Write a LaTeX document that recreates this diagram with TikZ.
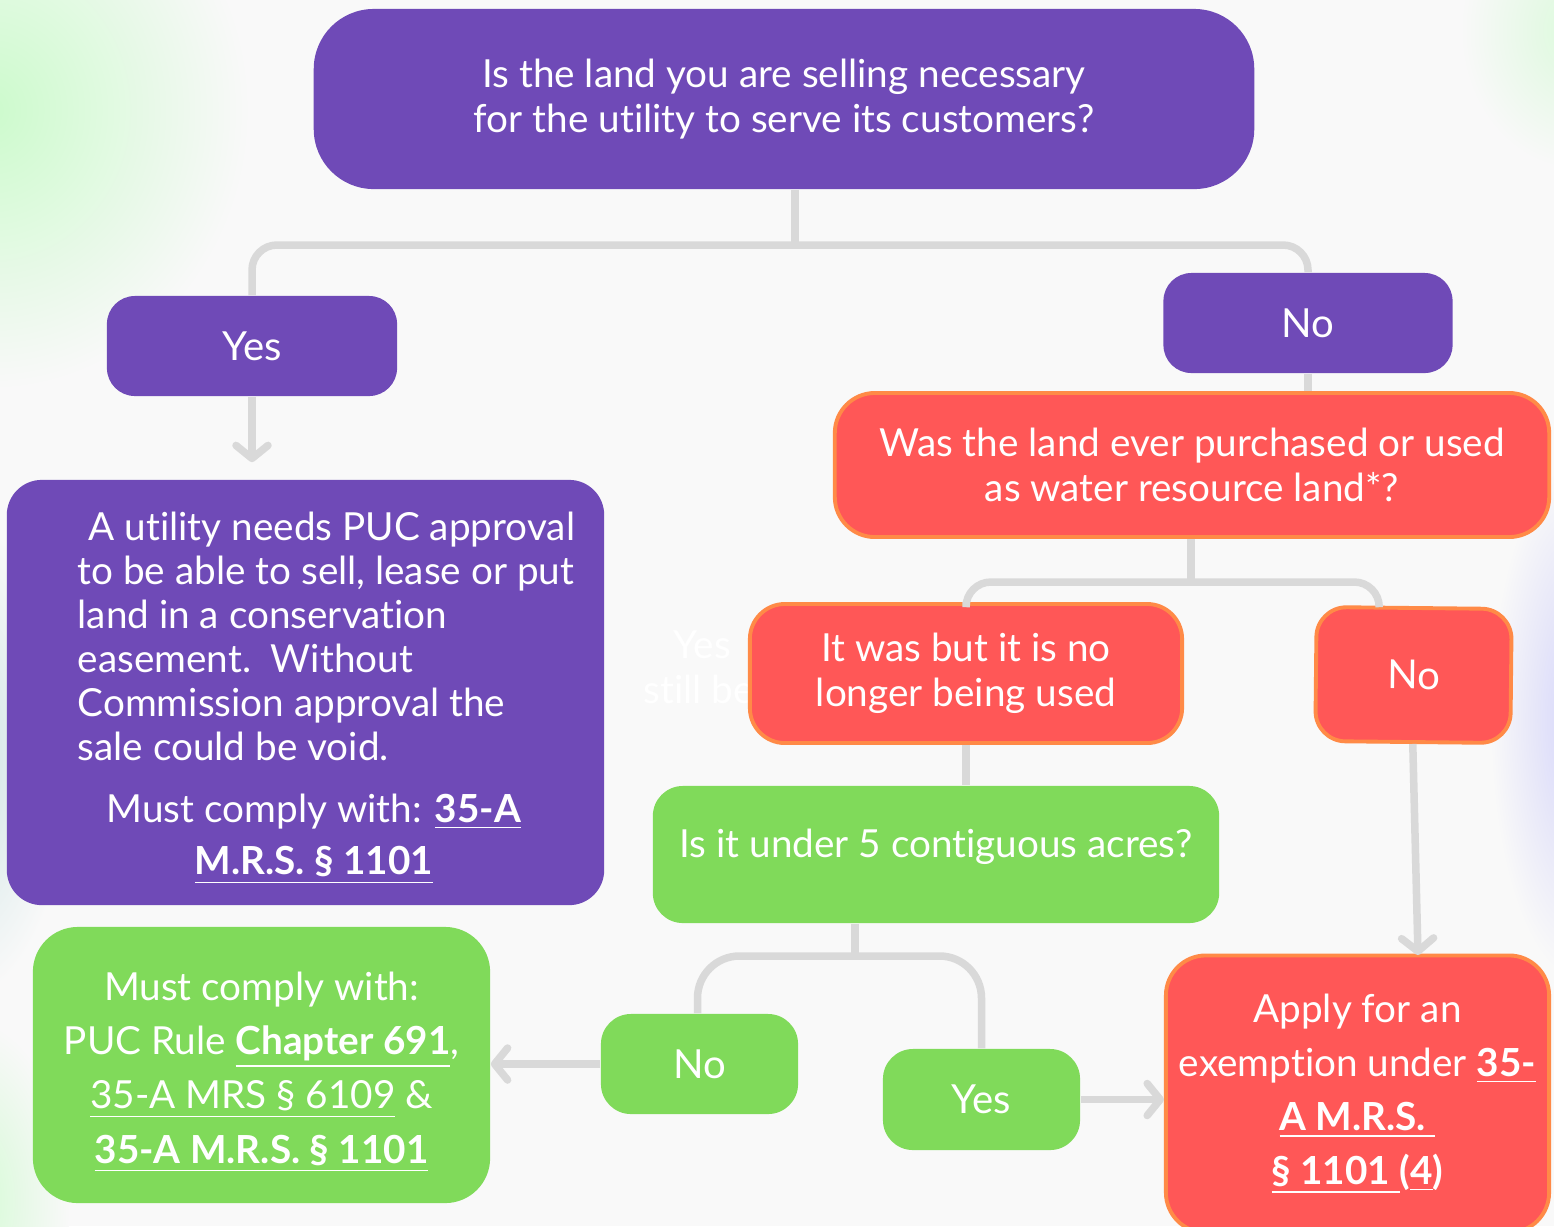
\documentclass[tikz,border=0pt]{standalone}
\usepackage{fontspec}
\setmainfont{Lato}[Ligatures=NoCommon]
\usetikzlibrary{arrows.meta,calc}

\definecolor{bgwhite}{HTML}{F9F9F9}
\definecolor{upurple}{HTML}{6F4AB7}
\definecolor{ured}{HTML}{FF5757}
\definecolor{uorange}{HTML}{FF8A47}
\definecolor{ugreen}{HTML}{80DA5A}
\definecolor{ugray}{HTML}{D9D9D9}

\begin{document}
\begin{tikzpicture}[x=0.01cm,y=-0.01cm]

\tikzstyle{card} = [rectangle,inner sep=0pt,text=white,align=center,font=\fontsize{11}{12.8}\selectfont]
\tikzstyle{purplecard} = [card,fill=upurple]
\tikzstyle{redcard} = [card,fill=ured,draw=uorange,line width=1.1pt]
\tikzstyle{greencard} = [card,fill=ugreen]
\tikzstyle{bigword} = [font=\fontsize{11.4}{13}\selectfont]
\tikzstyle{link} = [draw=ugray,line width=0.075cm]
\tikzstyle{linkarrow} = [link,-{Straight Barb[round,length=0.13cm,width=0.32cm]}]

\useasboundingbox (0,0) rectangle (1554,1226);
\clip (0,0) rectangle (1554,1226);

% background with soft blots
\fill[bgwhite] (0,0) rectangle (1554,1226);
\shade[inner color=green!18!bgwhite,outer color=bgwhite] (-10,110) ellipse [x radius=260,y radius=280];
\shade[inner color=teal!18!bgwhite,outer color=bgwhite] (-40,760) ellipse [x radius=110,y radius=240];
\shade[inner color=green!15!bgwhite,outer color=bgwhite] (-30,1200) ellipse [x radius=100,y radius=180];
\shade[inner color=green!12!bgwhite,outer color=bgwhite] (1580,30) ellipse [x radius=120,y radius=140];
\shade[inner color=blue!15!bgwhite,outer color=bgwhite] (1580,720) ellipse [x radius=90,y radius=260];

\node[text=white,anchor=north west,align=left,inner sep=0pt,font=\fontsize{11}{12.8}\selectfont] (ghost) at (643,630) {\hspace*{0.3cm}Yes\\still be};

\node[purplecard,rounded corners=0.6cm,minimum width=9.4cm,minimum height=1.8cm] (q1) at (784,99) {Is the land you are selling necessary\\for the utility to serve its customers?};
\node[purplecard,bigword,rounded corners=0.28cm,minimum width=2.9cm,minimum height=1cm] (yes1) at (252,346) {Yes};
\node[purplecard,bigword,rounded corners=0.28cm,minimum width=2.89cm,minimum height=1cm] (no1) at (1308,323) {No};

\node[purplecard,rounded corners=0.35cm,minimum width=5.97cm,minimum height=4.25cm] (needs) at (305.5,692.5) {};
\node[card,anchor=north west,align=left,font=\fontsize{11}{12.5}\selectfont] (needstext) at (77,511) {\hspace*{0.11cm}A utility needs PUC approval\\to be able to sell, lease or put\\land in a conservation\\easement.\ \ Without\\Commission approval the\\sale could be void.};
\node[card,font=\fontsize{11}{15}\selectfont] (needsref) at (314,839) {Must comply with: \underline{\textbf{35-A}}\\\underline{\textbf{M.R.S. § 1101}}};

\node[redcard,rounded corners=0.4cm,minimum width=7.14cm,minimum height=1.44cm] (q2) at (1192,465) {Was the land ever purchased or used\\as water resource land*?};
\node[redcard,rounded corners=0.35cm,minimum width=4.32cm,minimum height=1.39cm] (was) at (966,673.5) {It was but it is no\\longer being used};
\node[redcard,bigword,rounded corners=0.3cm,minimum width=1.95cm,minimum height=1.34cm,rotate=-0.6] (no2) at (1413.5,675) {No};

\node[greencard,rounded corners=0.3cm,minimum width=5.66cm,minimum height=1.37cm] (q3) at (936,854.5) {\raisebox{0.22cm}{Is it under 5 contiguous acres?}};
\node[greencard,rounded corners=0.45cm,minimum width=4.57cm,minimum height=2.76cm,font=\fontsize{11}{15.4}\selectfont] (rules) at (261.5,1065) {\rule{0pt}{0.43cm}Must comply with:\\PUC Rule \underline{\textbf{Chapter 691}},\\\underline{35-A MRS § 6109} \&\\\underline{\textbf{35-A M.R.S. § 1101}}};
\node[greencard,bigword,rounded corners=0.3cm,minimum width=1.97cm,minimum height=1cm] (no3) at (699.5,1064) {No};
\node[greencard,bigword,rounded corners=0.3cm,minimum width=1.97cm,minimum height=1.01cm] (yes3) at (981.5,1099.5) {Yes};
\node[redcard,rounded corners=0.4cm,minimum width=3.83cm,minimum height=2.77cm,font=\fontsize{11}{15.4}\selectfont] (exempt) at (1357.5,1094) {Apply for an\\exemption under \underline{\textbf{35-}}\\\underline{\textbf{A M.R.S.\ }}\\\underline{\textbf{§ 1101 }}\textbf{(\underline{4})}};

% connectors
\coordinate (fork1) at (795,245);
\draw[link] (q1.south -| fork1) -- (fork1);
\draw[link,rounded corners=0.25cm] (fork1) -| (yes1.north);
\draw[link,rounded corners=0.25cm] (fork1) -| (no1.north);
\draw[linkarrow,shorten >=0.17cm] (yes1.south) -- (yes1.south |- needs.north);

\draw[link] (no1.south) -- (no1.south |- q2.north);
\coordinate (fork2) at (1191,582);
\draw[link] (q2.south -| fork2) -- (fork2);
\draw[link,rounded corners=0.25cm] (fork2) -| (was.north);
\draw[link,rounded corners=0.25cm] (fork2) -| ($(no2.north)+(-35,0)$);
\draw[link] (was.south) -- (was.south |- q3.north);
\coordinate (exempttop) at (1418,955);
\draw[linkarrow] (no2.south) -- (exempttop);

\coordinate (fork3) at (855,956);
\draw[link] (q3.south -| fork3) -- (fork3);
\draw[link,rounded corners=0.42cm] (fork3) -| ($(no3.north)+(-2,0)$);
\draw[link,rounded corners=0.42cm] (fork3) -| (yes3.north);
\draw[linkarrow] (no3.west) -- (no3.west -| rules.east);
\draw[linkarrow] (yes3.east) -- (yes3.east -| exempt.west);

\end{tikzpicture}
\end{document}
